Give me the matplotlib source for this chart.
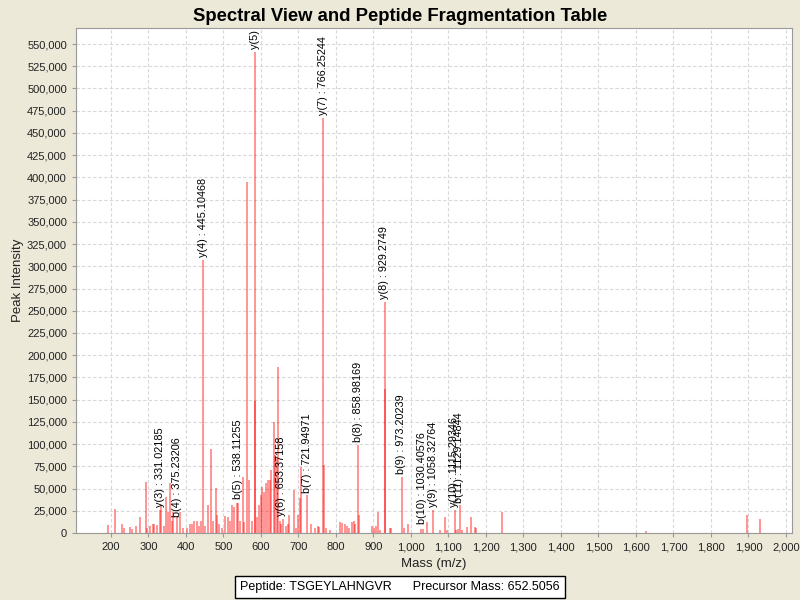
import matplotlib
matplotlib.use("Agg")
import matplotlib.pyplot as plt
from matplotlib.ticker import MultipleLocator, FuncFormatter

# ==========================================================
# DATA
# ==========================================================

masses = [
    193, 211, 230, 236, 250, 257, 267, 278, 293, 296,
    304, 311, 316, 324, 331, 334, 341, 346, 352, 357,
    362, 366, 375, 384, 391, 404, 411, 416, 422, 429,
    434, 440, 446, 451, 458, 467, 473, 480, 484, 489,
    496, 505, 513, 517, 523, 529, 535, 540, 543, 551,
    556, 562, 568, 575, 584, 585, 590, 595, 601, 604,
    609, 613, 618, 623, 628, 635, 638, 642, 646, 650,
    653, 658, 667, 672, 676, 688, 694, 698, 704, 707,
    722, 734, 745, 751, 756, 766, 767, 774, 785, 810,
    816, 824, 829, 834, 843, 847, 851, 859, 862, 895,
    901, 906, 913, 917, 930, 931, 943, 948, 975, 982,
    993, 1028, 1032, 1042, 1060, 1077, 1090, 1097, 1117, 1121,
    1126, 1131, 1135, 1150, 1159, 1171, 1173, 1244, 1626, 1897,
    1931,
]

intensities = [
    9000, 27000, 9800, 6000, 7000, 4000, 8000, 18000, 57800, 6000,
    8000, 10000, 10000, 9000, 26000, 31500, 8000, 41000, 24000, 56000,
    13000, 24000, 18000, 24000, 6000, 6000, 10000, 10000, 13000, 13000,
    8000, 13000, 307000, 8000, 31500, 94600, 13000, 50700, 20000, 10000,
    6000, 19000, 18000, 13000, 31500, 29000, 34000, 34000, 13000, 63400,
    12000, 395000, 60000, 13000, 541000, 148000, 18000, 31500, 43000, 52000,
    46000, 56000, 60000, 60000, 71000, 125000, 88000, 84000, 187000, 13000,
    10000, 16000, 8000, 10000, 20000, 48400, 6000, 20000, 39000, 74600,
    43000, 10000, 6000, 8000, 7000, 467000, 76000, 6000, 3000, 12000,
    11000, 10000, 8000, 6000, 12000, 13000, 10000, 99000, 20000, 8000,
    6000, 8000, 24000, 3000, 260000, 162000, 6000, 6000, 63000, 6000,
    10000, 5000, 5000, 12000, 26000, 3000, 18000, 3000, 26000, 3000,
    5000, 31000, 3000, 7000, 17600, 7000, 6000, 23600, 2600, 20300,
    15800,
]

ion_labels = [
    "y(3) : 331.02185", "b(4) : 375.23206", "y(4) : 445.10468",
    "b(5) : 538.11255", "y(5) : 584.31827", "y(6) : 653.37158",
    "b(7) : 721.94971", "y(7) : 766.25244", "b(8) : 858.98169",
    "y(8) : 929.2749", "b(9) : 973.20239", "b(10) : 1030.40576",
    "y(9) : 1058.32764", "y(10) : 1115.29346", "b(11) : 1129.14844",
]
ion_mz = [331.02, 375.23, 445.10, 538.11, 584.3, 653.37, 721.95, 766.25,
          858.98, 929.27, 973.20, 1030.41, 1058.33, 1115.29, 1129.15]
ion_int = [26000, 15000, 307000, 35000, 541000, 16000, 42000, 467000,
           99000, 260000, 63000, 7000, 26000, 26000, 31000]

peptide = "TSGEYLAHNGVR"
precursor_mass = 652.5056

# ==========================================================
# FIGURE
# ==========================================================

plt.rcParams["font.family"] = ["Liberation Sans", "DejaVu Sans"]

bg = "#ECE9D8"
fig = plt.figure(figsize=(8, 6), dpi=100, facecolor=bg)
ax = fig.add_axes([0.095, 0.1117, 0.895, 0.8416])
ax.set_facecolor("white")

ax.vlines(masses, 0, intensities, colors=[(1, 0, 0, 0.42)], linewidth=1.4)

# fragment ion annotations (the top one is cut by the plot edge, as in the original)
for lab, mz, inten in zip(ion_labels, ion_mz, ion_int):
    ax.text(mz, inten + 3000, lab, rotation=90, ha="center", va="bottom",
            fontsize=7.8, color="black", clip_on=True)

ax.set_xlim(107, 2016)
ax.set_ylim(0, 568000)

ax.xaxis.set_major_locator(MultipleLocator(100))
ax.yaxis.set_major_locator(MultipleLocator(25000))
comma = FuncFormatter(lambda v, p: f"{int(round(v)):,}")
ax.xaxis.set_major_formatter(comma)
ax.yaxis.set_major_formatter(comma)

ax.grid(True, color="#D8D8D8", linestyle=(0, (3, 2)), linewidth=0.8)
ax.set_axisbelow(True)

for s in ax.spines.values():
    s.set_color("#999999")
ax.tick_params(axis="both", labelsize=8, colors="#999999",
               labelcolor="#222222", length=3, width=0.8, direction="out")

ax.set_xlabel("Mass (m/z)", fontsize=9.5, color="#222222", labelpad=4)
ax.set_ylabel("Peak Intensity", fontsize=9.5, color="#222222", labelpad=2)

fig.text(0.5, 0.9733, "Spectral View and Peptide Fragmentation Table",
         ha="center", va="center", fontsize=13.3, fontweight="bold")

fig.text(0.5, 0.0217,
         f"Peptide: {peptide}      Precursor Mass: {precursor_mass}",
         ha="center", va="center", fontsize=9,
         bbox=dict(boxstyle="square,pad=0.42", facecolor="white",
                   edgecolor="black", linewidth=1))

plt.savefig("out.png", dpi=100, facecolor=bg)
